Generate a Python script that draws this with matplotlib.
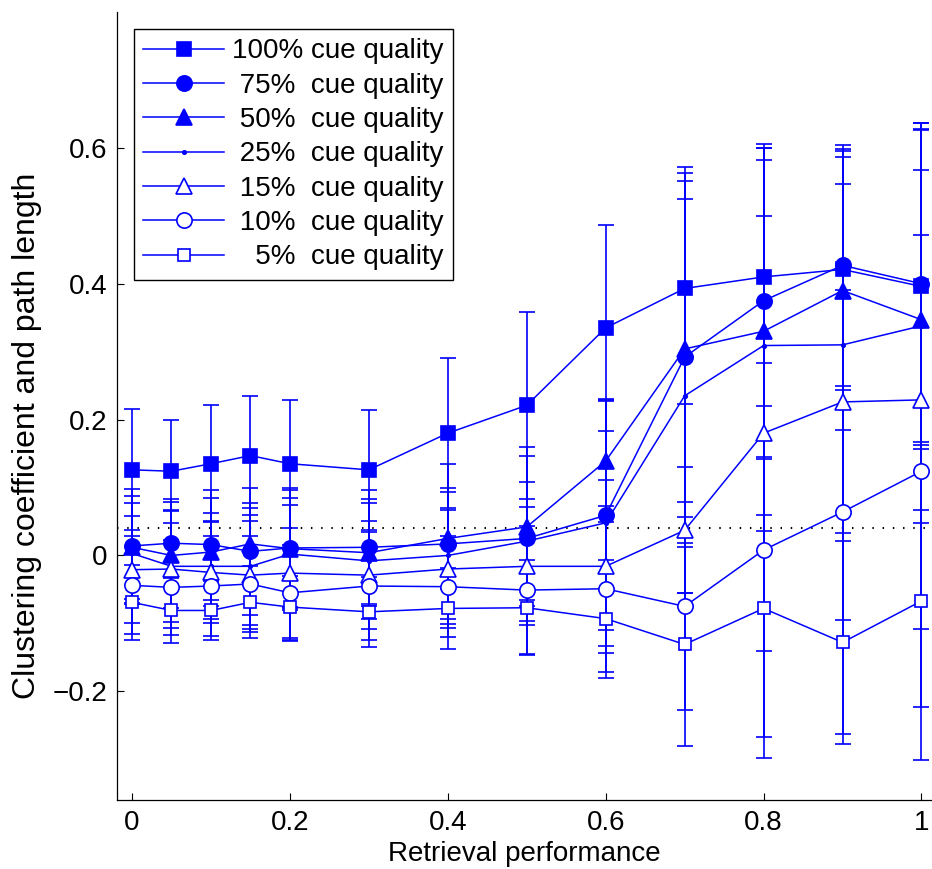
import numpy as np
import matplotlib
matplotlib.use("Agg")
import matplotlib.pyplot as plt
from matplotlib.lines import Line2D

plt.rcParams['font.family'] = ['Liberation Sans', 'DejaVu Sans']

# retrieval performance levels
perf = [0, 0.05, 0.1, 0.15, 0.2, 0.3, 0.4, 0.5, 0.6, 0.7, 0.8, 0.9, 1.0]

labels = ['100% cue quality', ' 75%  cue quality', ' 50%  cue quality',
          ' 25%  cue quality', ' 15%  cue quality', ' 10%  cue quality',
          '   5%  cue quality']

# mean values
q100 = [0.126, 0.124, 0.135, 0.147, 0.135, 0.126, 0.180, 0.221, 0.335, 0.393, 0.410, 0.421, 0.396]
q75 = [0.014, 0.018, 0.016, 0.006, 0.011, 0.012, 0.017, 0.025, 0.059, 0.292, 0.375, 0.427, 0.400]
q50 = [0.012, 0.000, 0.005, 0.017, 0.010, 0.004, 0.025, 0.042, 0.139, 0.304, 0.330, 0.390, 0.347]
q25 = [0.003, -0.016, -0.016, -0.016, 0.002, -0.008, 0.000, 0.021, 0.048, 0.235, 0.309, 0.310, 0.338]
q15 = [-0.021, -0.020, -0.025, -0.029, -0.026, -0.029, -0.020, -0.016, -0.016, 0.037, 0.180, 0.226, 0.229]
q10 = [-0.044, -0.047, -0.045, -0.042, -0.055, -0.045, -0.046, -0.051, -0.049, -0.075, 0.008, 0.064, 0.124]
q5 = [-0.069, -0.081, -0.081, -0.069, -0.076, -0.083, -0.078, -0.077, -0.093, -0.131, -0.078, -0.128, -0.067]

# error bar half lengths
e100 = [0.089, 0.076, 0.086, 0.088, 0.094, 0.088, 0.110, 0.138, 0.152, 0.170, 0.190, 0.177, 0.240]
e75 = [0.084, 0.065, 0.081, 0.094, 0.088, 0.084, 0.118, 0.121, 0.169, 0.280, 0.230, 0.177, 0.237]
e50 = [0.076, 0.078, 0.080, 0.060, 0.086, 0.079, 0.075, 0.117, 0.090, 0.247, 0.270, 0.205, 0.280]
e25 = [0.074, 0.082, 0.078, 0.086, 0.083, 0.085, 0.094, 0.087, 0.182, 0.290, 0.273, 0.277, 0.290]
e15 = [0.079, 0.087, 0.075, 0.080, 0.100, 0.080, 0.087, 0.087, 0.127, 0.093, 0.320, 0.321, 0.338]
e10 = [0.072, 0.070, 0.074, 0.070, 0.070, 0.080, 0.074, 0.094, 0.122, 0.153, 0.275, 0.327, 0.347]
e5 = [0.055, 0.048, 0.044, 0.053, 0.046, 0.052, 0.059, 0.070, 0.087, 0.150, 0.220, 0.149, 0.234]

chance = 0.041

means = [q100, q75, q50, q25, q15, q10, q5]
errs = [e100, e75, e50, e25, e15, e10, e5]
markers = ['s', 'o', '^', '.', '^', 'o', 's']
msizes = [9.5, 11, 11, 5, 11, 11, 9]
filled = [True, True, True, True, False, False, False]

blue = '#0000ff'

fig = plt.figure(figsize=(9.32, 8.69), dpi=100)
ax = fig.add_axes([0.1255, 0.0794, 0.8745, 0.9068])

handles = []
for m, e, mk, ms, f, lab in zip(means, errs, markers, msizes, filled, labels):
    style = dict(color=blue, lw=1.1, marker=mk, markersize=ms,
                 markerfacecolor=blue if f else 'white', markeredgecolor=blue,
                 markeredgewidth=1.2)
    ax.errorbar(perf, m, yerr=e, ecolor=blue, elinewidth=1.2,
                capsize=5.7, capthick=1.1, **style)
    handles.append(Line2D([], [], label=lab, **style))

ax.axhline(chance, color='black', lw=1.5, linestyle=(0, (0.7, 4.2)), zorder=0.5)

ax.set_xlim(-0.019, 1.0133)
ax.set_ylim(-0.36, 0.80)
ax.set_xticks([0, 0.2, 0.4, 0.6, 0.8, 1])
ax.set_xticklabels(['0', '0.2', '0.4', '0.6', '0.8', '1'])
ax.set_yticks([-0.2, 0, 0.2, 0.4, 0.6])
ax.set_yticklabels(['\u22120.2', '0', '0.2', '0.4', '0.6'])
ax.tick_params(direction='in', length=5, width=0.8, labelsize=20, pad=7, colors='black')
ax.spines['top'].set_visible(False)
ax.spines['right'].set_visible(False)
for s in ['left', 'bottom']:
    ax.spines[s].set_linewidth(0.9)

ax.set_xlabel('Retrieval performance', fontsize=20, labelpad=4)
ax.set_ylabel('Clustering coefficient and path length', fontsize=23)
ax.yaxis.set_label_coords(-0.092, 0.462)

leg = ax.legend(handles=handles, loc='upper left', fontsize=20, frameon=True,
                fancybox=False, edgecolor='black', framealpha=1,
                handlelength=2.9, handletextpad=0.3, labelspacing=0.3,
                borderaxespad=0.6, borderpad=0.35)
leg.get_frame().set_linewidth(1.0)

fig.savefig('out.png', dpi=100)
